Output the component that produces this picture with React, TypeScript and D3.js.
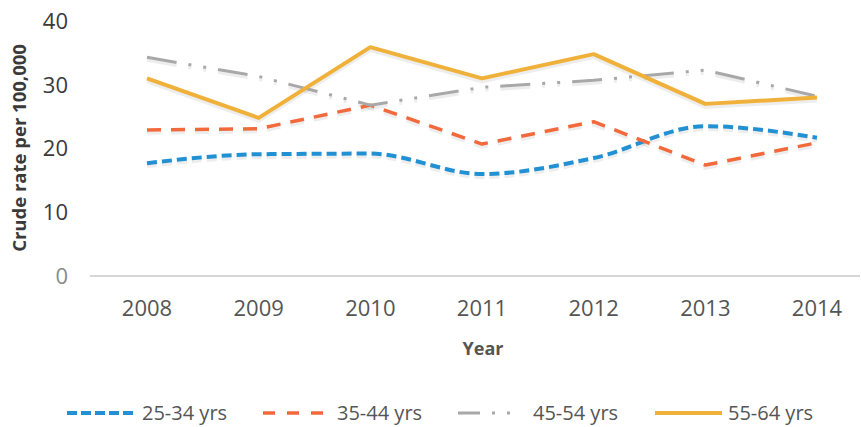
import React from "react";
import * as d3 from "d3";

const years = ["2008", "2009", "2010", "2011", "2012", "2013", "2014"];
const yTicks = [0, 10, 20, 30, 40];
const s25_34 = [17.7, 19.1, 19.2, 16.0, 18.5, 23.5, 21.7];
const s35_44 = [22.9, 23.1, 26.8, 20.7, 24.2, 17.4, 20.9];
const s45_54 = [34.3, 31.3, 26.8, 29.6, 30.7, 32.3, 28.2];
const s55_64 = [31.0, 24.8, 35.9, 31.0, 34.8, 27.0, 28.0];
const seriesNames = ["25-34 yrs", "35-44 yrs", "45-54 yrs", "55-64 yrs"];

const W = 861;
const H = 427;
const FONT = "'Open Sans', sans-serif";

export default function App() {
  const x = d3.scalePoint<string>().domain(years).range([147, 817]);
  const y = d3.scaleLinear().domain([0, 40]).range([276, 21]);

  const series = [
    { name: seriesNames[0], values: s25_34, color: "#2291d3", width: 4, dash: "10,5", curve: d3.curveMonotoneX },
    { name: seriesNames[1], values: s35_44, color: "#f26a3c", width: 3.5, dash: "14,10", curve: d3.curveLinear },
    { name: seriesNames[2], values: s45_54, color: "#a8a8a8", width: 3, dash: "30,12,3,12,3,12", curve: d3.curveLinear },
    { name: seriesNames[3], values: s55_64, color: "#f0b13a", width: 4, dash: "none", curve: d3.curveLinear },
  ];

  const legend = [
    { x1: 67, x2: 137, tx: 142, dash: "10,4" },
    { x1: 263, x2: 332, tx: 337, dash: "12,12" },
    { x1: 458, x2: 522, tx: 533, dash: "22,12,3,12,3,12" },
    { x1: 655, x2: 722, tx: 728, dash: "none" },
  ];

  return (
    <svg
      width={W}
      height={H}
      style={{ position: "absolute", left: 0, top: 0, background: "#fff" }}
    >
      <line x1={90} x2={860} y1={y(0)} y2={y(0)} stroke="#d6d6d6" strokeWidth={2} />

      {yTicks.map((t) => (
        <text
          key={t}
          x={68}
          y={y(t)}
          dy="0.36em"
          textAnchor="end"
          fontFamily={FONT}
          fontSize={22}
          fill={t === 0 ? "#8a8a8a" : "#3a3a3a"}
        >
          {t}
        </text>
      ))}

      {years.map((yr) => (
        <text
          key={yr}
          x={x(yr)}
          y={316}
          textAnchor="middle"
          fontFamily={FONT}
          fontSize={22}
          fill="#555"
        >
          {yr}
        </text>
      ))}

      <text
        transform={`translate(26,148) rotate(-90)`}
        textAnchor="middle"
        fontFamily={FONT}
        fontSize={18.5}
        fontWeight="bold"
        fill="#3a3a3a"
      >
        Crude rate per 100,000
      </text>
      <text
        x={483}
        y={355}
        textAnchor="middle"
        fontFamily={FONT}
        fontSize={18}
        fontWeight="bold"
        fill="#555"
      >
        Year
      </text>

      {series.map((s) => {
        const line = d3
          .line<number>()
          .x((_, i) => x(years[i]) as number)
          .y((v) => y(v) + 3)
          .curve(s.curve);
        return (
          <path
            key={"sh" + s.name}
            d={line(s.values) || ""}
            fill="none"
            stroke="#000"
            strokeOpacity={0.07}
            strokeWidth={s.width}
            strokeDasharray={s.dash}
          />
        );
      })}

      {series.map((s) => {
        const line = d3
          .line<number>()
          .x((_, i) => x(years[i]) as number)
          .y((v) => y(v))
          .curve(s.curve);
        return (
          <path
            key={s.name}
            d={line(s.values) || ""}
            fill="none"
            stroke={s.color}
            strokeWidth={s.width}
            strokeDasharray={s.dash}
            strokeLinejoin="round"
          />
        );
      })}

      {series.map((s, i) => (
        <g key={"lg" + s.name}>
          <line
            x1={legend[i].x1}
            x2={legend[i].x2}
            y1={413}
            y2={413}
            stroke={s.color}
            strokeWidth={s.width}
            strokeDasharray={legend[i].dash}
          />
          <text
            x={legend[i].tx}
            y={413}
            dy="0.36em"
            fontFamily={FONT}
            fontSize={20}
            fill="#555"
          >
            {s.name}
          </text>
        </g>
      ))}
    </svg>
  );
}
